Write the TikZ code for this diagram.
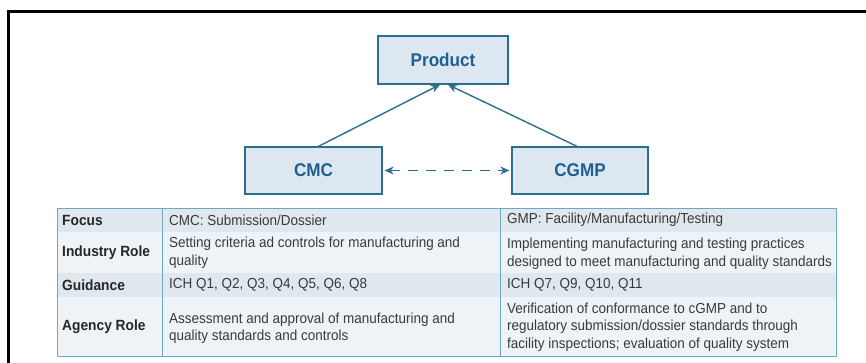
\documentclass[tikz,border=0pt]{standalone}
\usepackage{fontspec}
\setmainfont{Liberation Sans}[FakeStretch=0.93]
\usetikzlibrary{arrows.meta}
\definecolor{boxfill}{HTML}{DCE7F2}
\definecolor{boxline}{HTML}{2B6E8E}
\definecolor{boxtext}{HTML}{1F5F8E}
\definecolor{rowdark}{HTML}{DFE7EF}
\definecolor{rowlight}{HTML}{EEF3F8}
\definecolor{gridline}{HTML}{6FA6C2}
\definecolor{celltext}{HTML}{3A3A3A}
\tikzset{
  topbox/.style={draw=boxline, line width=1.3pt, fill=boxfill, text=boxtext,
    font=\fontsize{18.4}{21}\selectfont\bfseries, inner sep=0pt},
  link/.style={draw=boxline, line width=1.4pt, -{Stealth[length=9pt,width=8pt]}},
  peer/.style={draw=boxline, line width=1.4pt, dash pattern=on 10pt off 8pt,
    {Stealth[length=9pt,width=8pt]}-{Stealth[length=9pt,width=8pt]}},
  rowhead/.style={anchor=west, inner sep=0pt, text=black!85,
    font=\fontsize{14.8}{17.5}\selectfont\bfseries},
  cell/.style={anchor=west, inner sep=0pt, text=celltext, align=left,
    font=\fontsize{14.5}{17.5}\selectfont},
  grid/.style={draw=gridline, line width=0.9pt}
}
\begin{document}
\begin{tikzpicture}[x=1pt,y=-1pt]
\useasboundingbox (0,0) rectangle (866,363);
% frame on the top and left edges
\draw[line width=2.4pt, black] (866,11.5) -- (8.5,11.5) -- (8.5,363);

% concept boxes
\node[topbox, minimum width=130pt, minimum height=48pt] (product) at (443,60) {Product};
\node[topbox, minimum width=137pt, minimum height=47pt] (cmc) at (313.5,170.5) {CMC};
\node[topbox, minimum width=136pt, minimum height=47pt] (cgmp) at (580,170.5) {CGMP};

\draw[link] ([xshift=5pt]cmc.north) -- ([xshift=-3pt]product.south);
\draw[link] ([xshift=-3pt]cgmp.north) -- ([xshift=5pt]product.south);
\draw[peer] ([xshift=2pt]cmc.east) -- ([xshift=-2pt]cgmp.west);

% table row bands
\fill[rowdark]  (57,208) rectangle (836,232);
\fill[rowlight] (57,232) rectangle (836,273);
\fill[rowdark]  (57,273) rectangle (836,297);
\fill[rowlight] (57,297) rectangle (836,356);
\draw[grid] (57,208) rectangle (836,356);
\draw[grid] (162,208) -- (162,356);
\draw[grid] (500,208) -- (500,356);

% row headings
\node[rowhead] (hfocus) at (62,220) {Focus};
\node[rowhead] (hind)   at (62,252.5) {Industry Role};
\node[rowhead] (hguide) at (62,285) {Guidance};
\node[rowhead] (hagency) at (62,326.5) {Agency Role};

% CMC column
\node[cell] (c1) at (169,220) {CMC: Submission/Dossier};
\node[cell] (c2) at (169,253) {Setting criteria ad controls for manufacturing and\\quality};
\node[cell] (c3) at (169,285) {ICH Q1, Q2, Q3, Q4, Q5, Q6, Q8};
\node[cell] (c4) at (169,328) {Assessment and approval of manufacturing and\\quality standards and controls};

% GMP column
\node[cell] (g1) at (507,220) {GMP: Facility/Manufacturing/Testing};
\node[cell] (g2) at (507,254) {Implementing manufacturing and testing practices\\designed to meet manufacturing and quality standards};
\node[cell] (g3) at (507,285) {ICH Q7, Q9, Q10, Q11};
\node[cell] (g4) at (507,327) {Verification of conformance to cGMP and to\\regulatory submission/dossier standards through\\facility inspections; evaluation of quality system};
\end{tikzpicture}
\end{document}
